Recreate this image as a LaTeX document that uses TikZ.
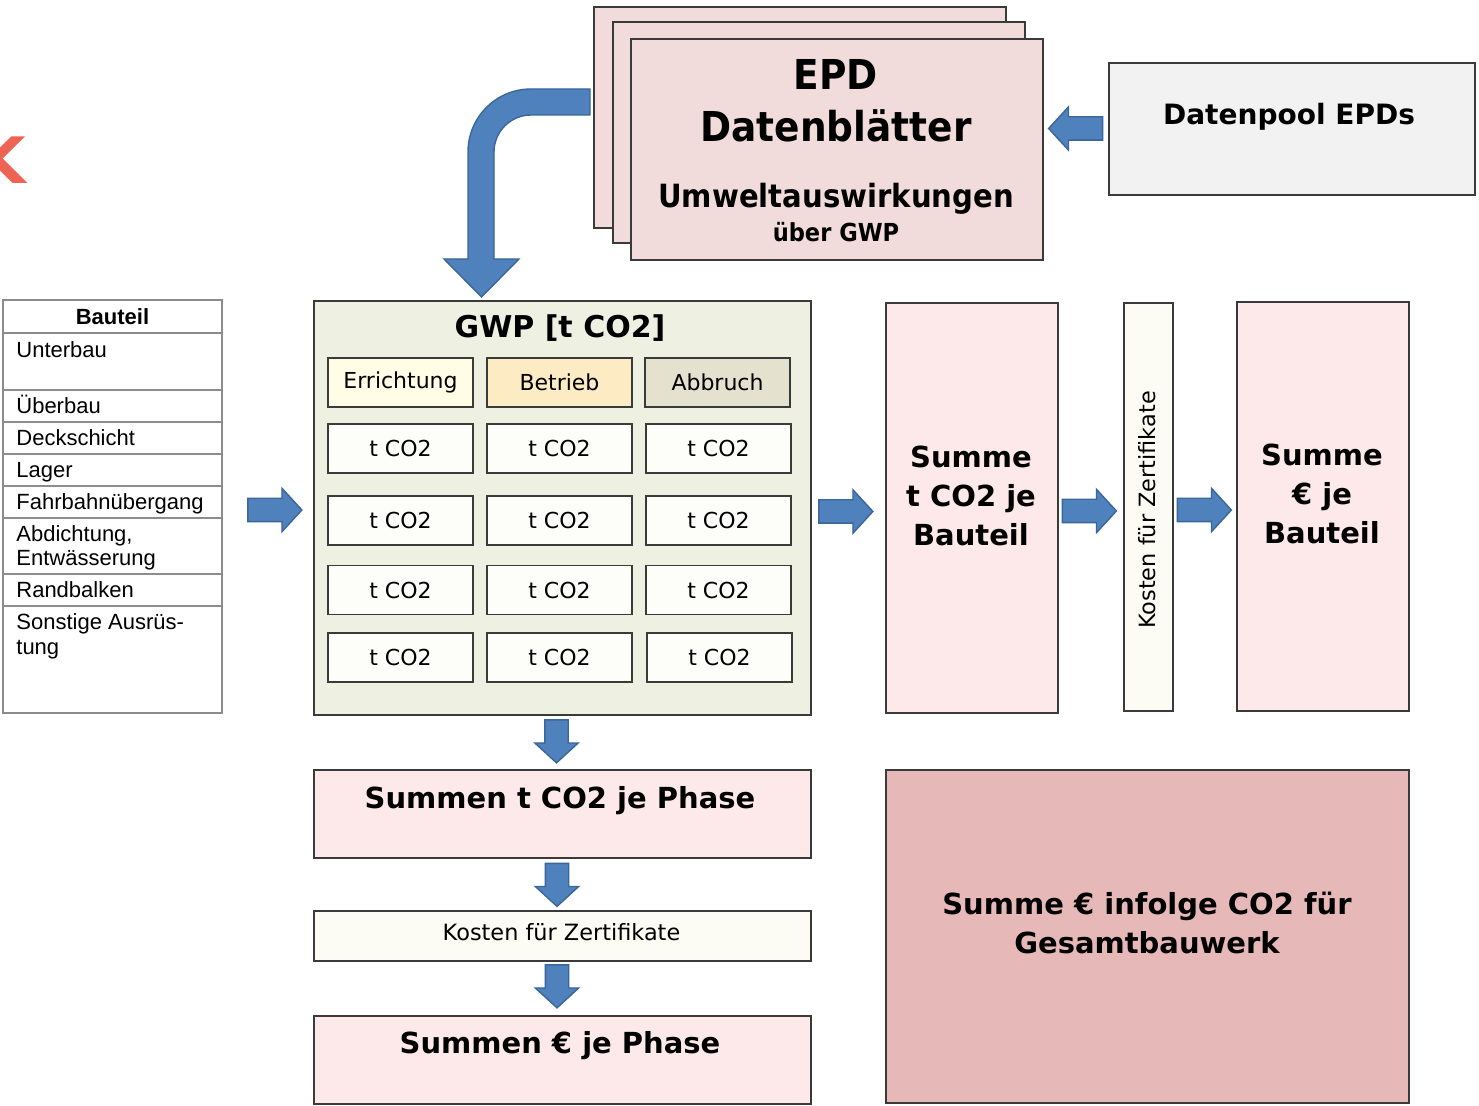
\documentclass[tikz,border=0pt]{standalone}
\usepackage{fontspec}
\setmainfont{DejaVu Sans}
\newfontfamily\epdfont[FakeStretch=0.91]{DejaVu Sans}
\newfontfamily\tabfont{Liberation Sans}
\usetikzlibrary{shapes.arrows}
\usetikzlibrary{positioning}

\definecolor{arrowblue}{HTML}{4F81BD}
\definecolor{arrowline}{HTML}{3B6699}
\definecolor{boxline}{HTML}{3A3A3A}
\definecolor{tabline}{HTML}{8C8C8C}
\definecolor{epdpink}{HTML}{F2DCDB}
\definecolor{sumpink}{HTML}{FDE9E9}
\definecolor{totalpink}{HTML}{E6B8B7}
\definecolor{gwpfill}{HTML}{EEF0E2}
\definecolor{pool}{HTML}{F2F2F2}
\definecolor{paper}{HTML}{FCFCF5}
\definecolor{errfill}{HTML}{FFFDE6}
\definecolor{betfill}{HTML}{FDEBC3}
\definecolor{abbfill}{HTML}{E4E1CF}
\definecolor{cellfill}{HTML}{FDFDFA}
\definecolor{kred}{HTML}{EE6352}

\tikzset{
  box/.style={draw=boxline, line width=1pt, inner sep=0pt},
  boxsize/.style 2 args={minimum width=#1*0.5pt, minimum height=#2*0.5pt},
  cell/.style={box, fill=cellfill, line width=0.9pt, boxsize={145}{49}, font=\fontsize{11}{13}\selectfont},
  bigtext/.style={font=\bfseries\fontsize{14.5}{19.5}\selectfont, align=center, inner sep=0pt},
  epdtext/.style={anchor=base, inner sep=0pt},
  plaintext/.style={font=\fontsize{11.2}{13}\selectfont, inner sep=0pt},
  tabtext/.style={anchor=base west, inner sep=0pt, font=\tabfont\fontsize{11}{13}\selectfont},
  blockarrow/.style={single arrow, draw=arrowline, fill=arrowblue, line width=0.7pt, inner sep=5.5pt,
    single arrow head extend=5pt, single arrow tip angle=95, minimum height=27pt},
  arrowdown/.style={blockarrow, shape border rotate=270, minimum height=21.5pt},
  arrowleft/.style={blockarrow, shape border rotate=180},
}

\begin{document}
\begin{tikzpicture}[x=0.5pt, y=-0.5pt]
  \useasboundingbox[fill=white] (0,0) rectangle (1479,1106);
  % angeschnittener Buchstabe am Rand
  \node[anchor=base east, text=kred, inner sep=0pt, font=\bfseries\fontsize{32}{32}\selectfont] (kfrag) at (26,184) {K};

  % Bauteil-Tabelle
  \node[box, draw=tabline, line width=0.75pt, boxsize={219}{413}] (bauteil) at (112.5,506.5) {};
  \draw [tabline, line width=0.75pt] (3,333)--(222,333) (3,390)--(222,390) (3,422)--(222,422) (3,454)--(222,454)
    (3,486)--(222,486) (3,518)--(222,518) (3,574)--(222,574) (3,606)--(222,606);
  \node[tabtext, anchor=base, font=\tabfont\bfseries\fontsize{11}{13}\selectfont] (bauteilkopf) at (112.5,325) {Bauteil};
  \node[tabtext] (unterbau) at (16,358) {Unterbau};
  \node[tabtext] (ueberbau) at (16,414) {Überbau};
  \node[tabtext] (deckschicht) at (16,446) {Deckschicht};
  \node[tabtext] (lager) at (16,478) {Lager};
  \node[tabtext] (fahrbahn) at (16,510) {Fahrbahnübergang};
  \node[tabtext] (abdichtung) at (16,542) {Abdichtung,};
  \node[tabtext] (entwaesserung) at (16,566) {Entwässerung};
  \node[tabtext] (randbalken) at (16,598) {Randbalken};
  \node[tabtext] (sonstige) at (16,630) {Sonstige Ausrüs-};
  \node[tabtext] (sonstige2) at (16,655) {tung};
  \node[blockarrow] (pfeiltab) at (269.5,510) {};

  % EPD Datenblaetter
  \draw [arrowline, fill=arrowblue, line width=0.7pt] (590,115) -- (531,115)
    .. controls (510.6,115) and (494,131.6) .. (494,152) -- (494,259) -- (519,259) -- (481.5,297)
    -- (444,259) -- (468,259) -- (468,152) .. controls (468,117.2) and (496.2,89) .. (531,89) -- (590,89) -- cycle;
  \node[box, fill=epdpink, boxsize={412}{221}] (epd3) at (800,117.5) {};
  \node[box, fill=epdpink, boxsize={412}{221}] (epd2) at (818.5,133) {};
  \node[box, fill=epdpink, boxsize={412}{221}] (epd) at (837,149.5) {};
  \node[epdtext, font=\epdfont\bfseries\fontsize{20.6}{24}\selectfont] (epdtitel) at (836,90) {EPD};
  \node[epdtext, font=\epdfont\bfseries\fontsize{20.6}{24}\selectfont] (datenblaetter) at (836,142) {Datenblätter};
  \node[epdtext, font=\epdfont\bfseries\fontsize{16}{19}\selectfont] (umwelt) at (836,208) {Umweltauswirkungen};
  \node[epdtext, font=\epdfont\bfseries\fontsize{12.4}{15}\selectfont] (ueber) at (836,242) {über GWP};
  \node[box, fill=pool, boxsize={366}{132}] (pool) at (1292,129) {};
  \node[epdtext, font=\bfseries\fontsize{14}{17}\selectfont] (pooltxt) at (1289,125) {Datenpool EPDs};
  \node[arrowleft] (pfeilpool) at (1081,128.5) {};

  % GWP-Matrix
  \node[box, fill=gwpfill, boxsize={497}{414}] (gwp) at (562.5,508) {};
  \node[bigtext, anchor=base, font=\bfseries\fontsize{15}{18}\selectfont] (gwptitel) at (560,338) {GWP [t CO2]};
  \node[cell, fill=errfill] (err) at (400.5,382.5) {Errichtung};
  \node[cell, fill=betfill] (bet) at (559.5,382.5) {Betrieb};
  \node[cell, fill=abbfill] (abb) at (717.5,382.5) {Abbruch};
  \node[cell] (err1) at (400.5,448.5) {t CO2};
  \node[cell] (bet1) at (559.5,448.5) {t CO2};
  \node[cell] (abb1) at (718.5,448.5) {t CO2};
  \node[cell] (err2) at (400.5,520.5) {t CO2};
  \node[cell] (bet2) at (559.5,520.5) {t CO2};
  \node[cell] (abb2) at (718.5,520.5) {t CO2};
  \node[cell] (err3) at (400.5,590) {t CO2};
  \node[cell] (bet3) at (559.5,590) {t CO2};
  \node[cell] (abb3) at (718.5,590) {t CO2};
  \node[cell] (err4) at (400.5,657.5) {t CO2};
  \node[cell] (bet4) at (559.5,657.5) {t CO2};
  \node[cell] (abb4) at (719.5,657.5) {t CO2};

  % Summen je Bauteil
  \node[blockarrow] (pfeilgwp) at (840.5,511.5) {};
  \node[box, fill=sumpink, boxsize={172}{410}] (sumco2) at (972,508) {};
  \node[bigtext] (sumco2txt) at (971,496) {Summe\\t CO2 je\\Bauteil};
  \node[blockarrow] (pfeilco2) at (1084,511) {};
  \node[box, fill=paper, boxsize={49}{408}] (kostenv) at (1148.5,507) {};
  \node[plaintext, rotate=90] (kostenvtxt) at (1147,510) {Kosten für Zertifikate};
  \node[blockarrow] (pfeilkosten) at (1199,510) {};
  \node[box, fill=sumpink, boxsize={172}{409}] (sumeur) at (1323,506.5) {};
  \node[bigtext] (sumeurtxt) at (1322,494) {Summe\\€ je\\Bauteil};

  % Summen je Phase
  \node[arrowdown] (pfeilab1) at (556.5,736) {};
  \node[box, fill=sumpink, boxsize={497}{88}] (phaseco2) at (562.5,814) {};
  \node[bigtext, anchor=base] (phaseco2txt) at (560,809) {Summen t CO2 je Phase};
  \node[arrowdown] (pfeilab2) at (557,879.5) {};
  \node[box, fill=paper, boxsize={497}{50}] (kostenh) at (562.5,936) {};
  \node[plaintext, anchor=base] (kostenhtxt) at (561.5,940) {Kosten für Zertifikate};
  \node[arrowdown] (pfeilab3) at (557,981) {};
  \node[box, fill=sumpink, boxsize={497}{88}] (phaseeur) at (562.5,1059.5) {};
  \node[bigtext, anchor=base] (phaseeurtxt) at (560,1053) {Summen € je Phase};

  % Gesamtbauwerk
  \node[box, fill=totalpink, boxsize={523}{333}] (gesamt) at (1147.5,936.5) {};
  \node[bigtext] (gesamttxt) at (1147,922.5) {Summe € infolge CO2 für\\Gesamtbauwerk};
\end{tikzpicture}
\end{document}
